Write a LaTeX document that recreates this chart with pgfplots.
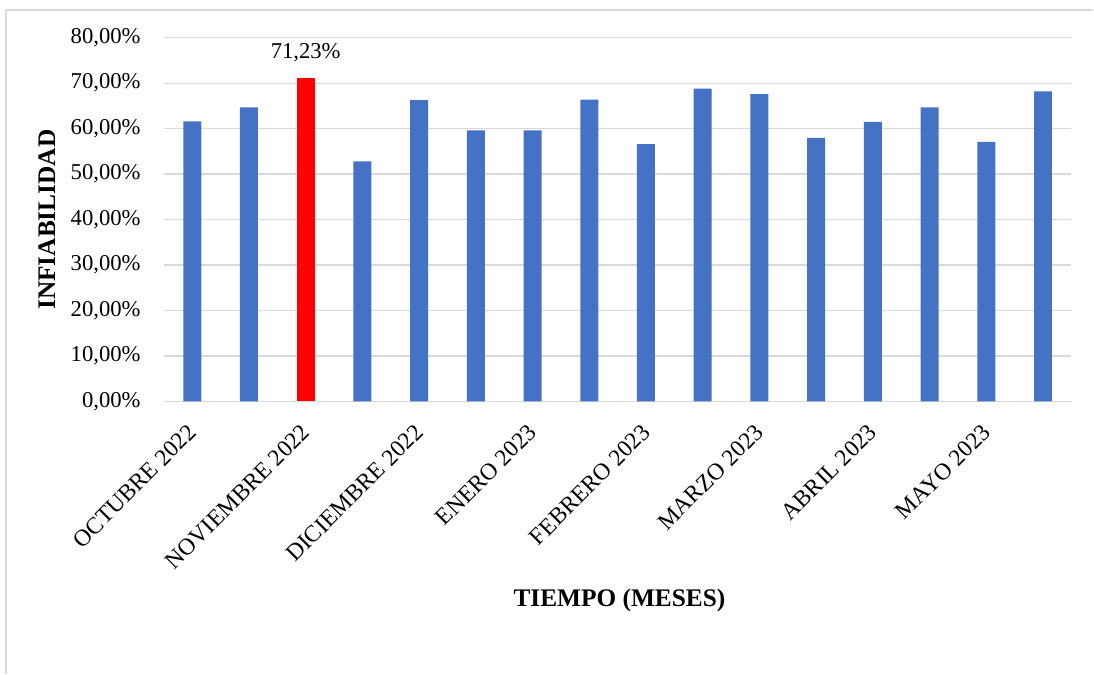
\documentclass[border=0pt]{standalone}
\usepackage{fontspec}
\setmainfont{Liberation Serif}
\usepackage{pgfplots}
\pgfplotsset{compat=1.18}
\definecolor{barblue}{HTML}{4472C4}
\definecolor{barred}{HTML}{FF0000}
\definecolor{gridgray}{HTML}{D9D9D9}
\begin{document}
\begin{tikzpicture}
\begin{axis}[
  scale only axis,
  width=681pt, height=273pt,
  at={(0,0)}, anchor=south west,
  xmin=-0.5, xmax=15.5,
  ymin=0, ymax=80,
  axis line style={draw=none},
  axis x line*=bottom,
  axis y line*=left,
  x axis line style={draw=gridgray, line width=1pt},
  y axis line style={draw=none},
  major tick length=0pt,
  ytick={0,10,20,30,40,50,60,70,80},
  yticklabels={{0,00\%},{10,00\%},{20,00\%},{30,00\%},{40,00\%},{50,00\%},{60,00\%},{70,00\%},{80,00\%}},
  ymajorgrids,
  grid style={gridgray, line width=1pt},
  xtick={0,2,4,6,8,10,12,14},
  xticklabels={OCTUBRE 2022,NOVIEMBRE 2022,DICIEMBRE 2022,ENERO 2023,FEBRERO 2023,MARZO 2023,ABRIL 2023,MAYO 2023},
  x tick label style={rotate=45, anchor=north east, font=\fontsize{17.7}{20}\selectfont, inner sep=1pt, xshift=-13pt, yshift=-7pt},
  y tick label style={font=\fontsize{17}{20}\selectfont, anchor=east, xshift=-14pt},
  xlabel={TIEMPO (MESES)},
  ylabel={INFIABILIDAD},
  xlabel style={font=\bfseries\fontsize{19}{22}\selectfont, at={(axis description cs:0.502,-0.546)}, anchor=center},
  ylabel style={font=\bfseries\fontsize{19}{22}\selectfont, at={(axis description cs:-0.1289,0.5)}, anchor=center, rotate=0},
  clip=false,
]
\addplot[ybar, bar width=13.5pt, fill=barblue, draw=none] coordinates {
  (0,61.6) (1,64.7) (3,52.8) (4,66.3) (5,59.6) (6,59.6) (7,66.4)
  (8,56.6) (9,68.8) (10,67.6) (11,58.0) (12,61.5) (13,64.7) (14,57.1) (15,68.2)
};
\addplot[ybar, bar width=13.5pt, fill=barred, draw=none] coordinates {(2,71.23)};
\node[font=\fontsize{17}{20}\selectfont, anchor=center, yshift=18.75pt] at (axis cs:2,71.23) {71,23\%};
\end{axis}
\draw[gridgray, line width=1pt] (-118.5pt,-204.2pt) -- (-118.5pt,293.8pt) -- (697.5pt,293.8pt);
\path[use as bounding box] (-123pt,-204.2pt) rectangle (697.5pt,301.3pt);
\end{tikzpicture}
\end{document}
